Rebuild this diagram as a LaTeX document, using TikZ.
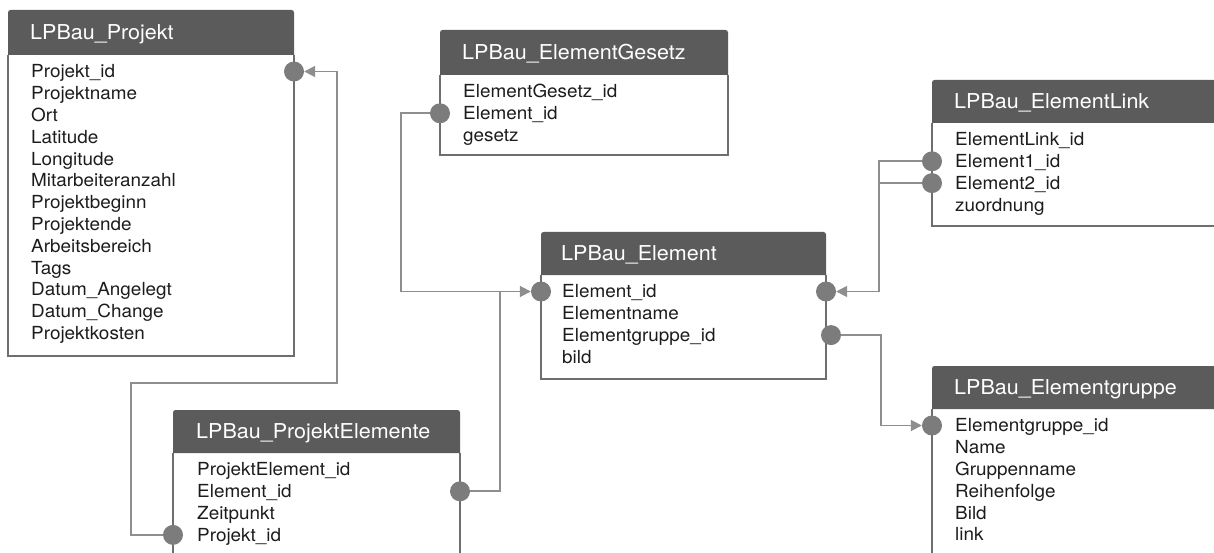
\documentclass[tikz,border=0pt]{standalone}
\usepackage{fontspec}
\setmainfont[FakeStretch=1.05]{TeX Gyre Heros}
\usetikzlibrary{arrows.meta,backgrounds}

\definecolor{hdrgray}{HTML}{5B5B5B}
\definecolor{dotgray}{HTML}{7C7C7C}
\definecolor{linegray}{HTML}{8E8E8E}
\definecolor{edgegray}{HTML}{6E6E6E}
\definecolor{inkgray}{HTML}{1C1C1C}

\tikzset{
  edge/.style={draw=edgegray, line width=1.5pt},
  hdrtxt/.style={anchor=west, inner sep=0pt, text=white,
    font=\fontsize{20.5}{24}\selectfont, text height=14.8pt, text depth=0pt},
  rowtxt/.style={anchor=west, inner sep=0pt, text=inkgray,
    font=\fontsize{18}{21}\selectfont, text height=12.9pt, text depth=0pt},
  keydot/.style={circle, fill=dotgray, inner sep=0pt, minimum size=20pt},
  conn/.style={draw=linegray, line width=1.8pt},
  fk/.style={conn, -{Triangle[length=11pt,width=11pt]}},
}

% #1 name, #2 left, #3 top, #4 right, #5 bottom, #6 header bottom,
% #7 text indent, #8 title, #9 column list
\newcommand\ertable[9]{%
  \fill[hdrgray] (#2,#6) {[rounded corners=2.5pt] -- (#2,#3) -- (#4,#3)} -- (#4,#6) -- cycle;
  \draw[edge] (#2,#6) -- (#2,#5) -- (#4,#5) -- (#4,#6);
  \node[hdrtxt] (#1) at ({#2+#7},{(#3+#6)/2}) {#8};
  \foreach \r [count=\i] in {#9} {
    \node[rowtxt] (#1-\i) at ({#2+#7+1},{#6+16.5+(\i-1)*21.8}) {\r};
  }%
}

\begin{document}
\begin{tikzpicture}[x=1pt,y=-1pt]
  \useasboundingbox (0,0) rectangle (1214,553);
  \clip (0,0) rectangle (1214,553);

  % tables
  \ertable{prj}{8}{10}{294}{356}{55}{22}{LPBau\_Projekt}
    {Projekt\_id,Projektname,Ort,Latitude,Longitude,Mitarbeiteranzahl,Projektbeginn,
     Projektende,Arbeitsbereich,Tags,Datum\_Angelegt,Datum\_Change,Projektkosten}
  \ertable{gz}{440}{30}{728}{155}{75}{22}{LPBau\_ElementGesetz}
    {ElementGesetz\_id,Element\_id,gesetz}
  \ertable{el}{541}{232}{826}{379}{275}{20}{LPBau\_Element}
    {Element\_id,Elementname,Elementgruppe\_id,bild}
  \ertable{lk}{932}{80}{1240}{226}{123}{22}{LPBau\_ElementLink}
    {ElementLink\_id,Element1\_id,Element2\_id,zuordnung}
  \ertable{gr}{932}{366}{1240}{580}{409}{22}{LPBau\_Elementgruppe}
    {Elementgruppe\_id,Name,Gruppenname,Reihenfolge,Bild,link}
  \ertable{pe}{173}{410}{460}{580}{453}{23}{LPBau\_ProjektElemente}
    {ProjektElement\_id,Element\_id,Zeitpunkt,Projekt\_id}

  % key markers
  \node[keydot] (dprj)  at (294,71.5) {};
  \node[keydot] (dgz)   at (440,113.3) {};
  \node[keydot] (del)   at (541,291.5) {};
  \node[keydot] (delr)  at (826,291.5) {};
  \node[keydot] (delg)  at (831,335.1) {};
  \node[keydot] (dlk1)  at (932,161.3) {};
  \node[keydot] (dlk2)  at (932,183.1) {};
  \node[keydot] (dgr)   at (932,425.5) {};
  \node[keydot] (dpe2)  at (460,491.3) {};
  \node[keydot] (dpe4)  at (173,534.9) {};

  % bend points of the relations
  \coordinate (ka) at (131,383);
  \coordinate (kb) at (337,383);
  \coordinate (kc) at (401,200);
  \coordinate (kd) at (500,400);
  \coordinate (ke) at (879,230);
  \coordinate (kf) at (881,380);

  \begin{scope}[on background layer]
    \draw[fk] (dpe4) -| (ka) -- (kb) |- (dprj);
    \draw[fk] (dgz) -| (kc) |- (del);
    \draw[conn] (dpe2) -| (kd) -- (kd |- del);
    \draw[fk] (dlk1) -| (ke) |- (delr);
    \draw[conn] (dlk2) -| (ke);
    \draw[fk] (delg) -| (kf) |- (dgr);
  \end{scope}
\end{tikzpicture}
\end{document}
